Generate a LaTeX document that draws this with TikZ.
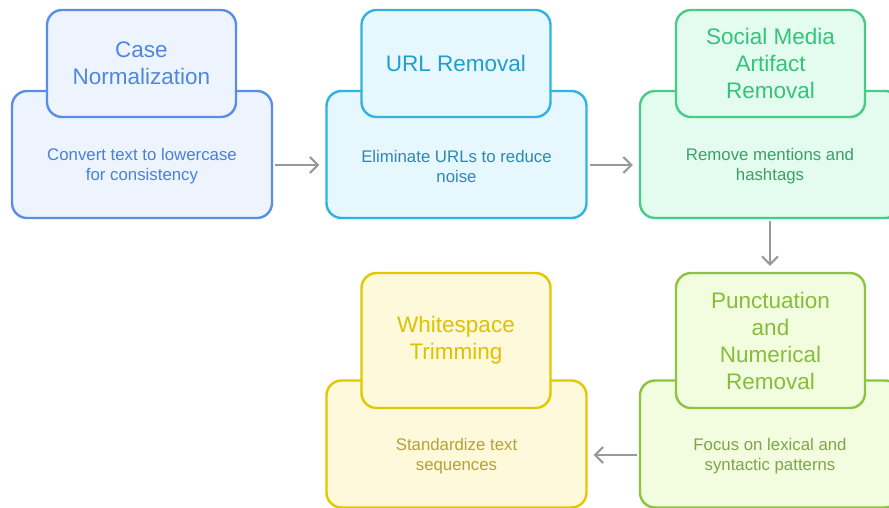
\documentclass[tikz,border=0pt]{standalone}
\usepackage{fontspec}
\setmainfont{Liberation Sans}
\usetikzlibrary{arrows.meta}
\definecolor{bS}{HTML}{5A8EE6}\definecolor{bF}{HTML}{EEF4FE}\definecolor{bT}{HTML}{4F87E0}\definecolor{bB}{HTML}{4A80D8}
\definecolor{cS}{HTML}{2FB3E0}\definecolor{cF}{HTML}{E6F7FD}\definecolor{cT}{HTML}{1E9FD0}\definecolor{cB}{HTML}{2B89B0}
\definecolor{gS}{HTML}{45CC86}\definecolor{gF}{HTML}{E3FCEF}\definecolor{gT}{HTML}{35C27A}\definecolor{gB}{HTML}{3C9F6A}
\definecolor{lS}{HTML}{8CC43F}\definecolor{lF}{HTML}{F2FDE0}\definecolor{lT}{HTML}{86BD3A}\definecolor{lB}{HTML}{7FA34A}
\definecolor{yS}{HTML}{E2C800}\definecolor{yF}{HTML}{FEF9DB}\definecolor{yT}{HTML}{DCC200}\definecolor{yB}{HTML}{B5A135}
\definecolor{arr}{HTML}{999999}
\tikzset{
  bigbox/.style={rectangle, rounded corners=15pt, line width=2.4pt, minimum width=260pt, minimum height=127pt, inner sep=0pt},
  topbox/.style={rectangle, rounded corners=15pt, line width=2.4pt, minimum width=189pt, inner sep=0pt},
  ttl/.style={font=\fontsize{22.5}{27}\selectfont, align=center},
  bdy/.style={font=\fontsize{16.8}{20}\selectfont, align=center},
  conn/.style={draw=arr, line width=2pt, -{Straight Barb[length=8pt,width=16pt,line width=2pt]}}
}
\begin{document}
\begin{tikzpicture}[x=1pt,y=-1pt]
\useasboundingbox (0,0) rectangle (889,508);
% Box 1
\node[bigbox, draw=bS, fill=bF] (b1) at (142,154.5) {};
\node[topbox, draw=bS, fill=bF, minimum height=107pt] (t1) at (141.5,63.5) {};
\node[ttl, text=bT] (t1l) at (t1.center) {Case\\Normalization};
\node[bdy, text=bB] (b1l) at (142,166) {Convert text to lowercase\\for consistency};
% Box 2
\node[bigbox, draw=cS, fill=cF] (b2) at (456.5,154.5) {};
\node[topbox, draw=cS, fill=cF, minimum height=107pt] (t2) at (456,63.5) {};
\node[ttl, text=cT] (t2l) at (t2.center) {URL Removal};
\node[bdy, text=cB] (b2l) at (456.5,166) {Eliminate URLs to reduce\\noise};
% Box 3
\node[bigbox, draw=gS, fill=gF] (b3) at (770,154.5) {};
\node[topbox, draw=gS, fill=gF, minimum height=107pt] (t3) at (770.5,63.5) {};
\node[ttl, text=gT] (t3l) at (t3.center) {Social Media\\Artifact\\Removal};
\node[bdy, text=gB] (b3l) at (770,166) {Remove mentions and\\hashtags};
% Box 4
\node[bigbox, draw=lS, fill=lF] (b4) at (770,444) {};
\node[topbox, draw=lS, fill=lF, minimum height=135pt] (t4) at (770.5,340.5) {};
\node[ttl, text=lT] (t4l) at (t4.center) {Punctuation\\and\\Numerical\\Removal};
\node[bdy, text=lB] (b4l) at (770,456) {Focus on lexical and\\syntactic patterns};
% Box 5
\node[bigbox, draw=yS, fill=yF] (b5) at (456.5,444) {};
\node[topbox, draw=yS, fill=yF, minimum height=135pt] (t5) at (456,340.5) {};
\node[ttl, text=yT] (t5l) at (t5.center) {Whitespace\\Trimming};
\node[bdy, text=yB] (b5l) at (456.5,456) {Standardize text\\sequences};
% Connectors
\draw[conn] ([xshift=2pt]b1.east |- 0,165) -- ([xshift=-6pt]b2.west |- 0,165);
\draw[conn] ([xshift=2pt]b2.east |- 0,165) -- ([xshift=-6pt]b3.west |- 0,165);
\draw[conn] ([yshift=-2pt]b3.south -| 770,0) -- ([yshift=6pt]t4.north -| 770,0);
\draw[conn] ([xshift=-2pt]b4.west |- 0,455) -- ([xshift=6pt]b5.east |- 0,455);
\end{tikzpicture}
\end{document}
